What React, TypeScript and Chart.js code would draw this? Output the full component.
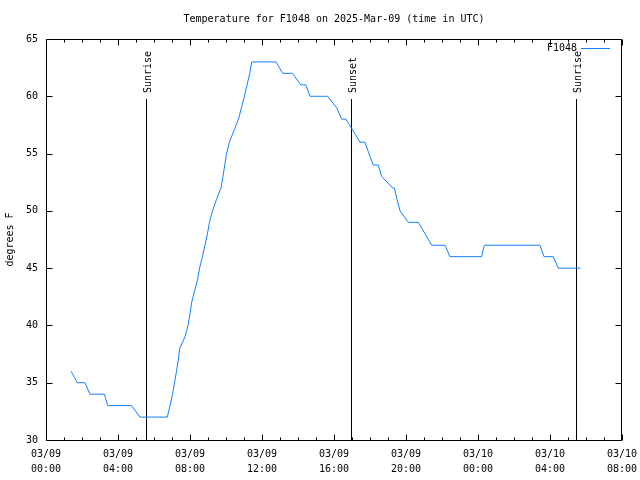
import React, { useEffect, useRef } from 'react';
import { Chart, registerables } from 'chart.js';

Chart.register(...registerables);

// Hours since 03/09 00:00 UTC and temperature readings (°F)
const hours = [
  1.39, 1.74, 2.17, 2.44, 3.24, 3.43, 4.76, 5.22, 6.74,
  6.89, 7.03, 7.14, 7.25, 7.35, 7.43, 7.72, 7.89, 8.0, 8.09, 8.25, 8.42, 8.53, 8.69, 8.83, 8.97,
  9.08, 9.25, 9.47, 9.72, 9.83, 9.93, 10.03, 10.19, 10.44, 10.69, 10.86, 11.02, 11.17, 11.32, 11.43,
  12.78, 13.15, 13.7, 14.15, 14.43, 14.67, 15.65, 16.15, 16.43, 16.67, 17.06, 17.44, 17.72, 17.94,
  18.18, 18.46, 18.65, 19.26, 19.35, 19.5, 19.67, 20.13, 20.68, 21.06, 21.43, 22.17, 22.44, 24.2,
  24.35, 27.44, 27.67, 28.18, 28.46, 29.7,
];
const temps = [
  36, 35, 35, 34, 34, 33, 33, 32, 32,
  33, 34, 35, 36, 37, 38, 39, 40, 41, 42, 43, 44, 45, 46, 47, 48,
  49, 50, 51, 52, 53, 54, 55, 56, 57, 58, 59, 60, 61, 62, 63,
  63, 62, 62, 61, 61, 60, 60, 59, 58, 58, 57, 56, 56, 55,
  54, 54, 53, 52, 52, 51, 50, 49, 49, 48, 47, 47, 46, 46,
  47, 47, 46, 46, 45, 45,
];

const xTickDates = ['03/09', '03/09', '03/09', '03/09', '03/09', '03/09', '03/10', '03/10', '03/10'];
const xTickTimes = ['00:00', '04:00', '08:00', '12:00', '16:00', '20:00', '00:00', '04:00', '08:00'];
const yTicks = [30, 35, 40, 45, 50, 55, 60, 65];

const markerNames = ['Sunrise', 'Sunset', 'Sunrise'];
const markerHours = [5.556, 16.944, 29.444];
const markerTop = 59.8;

const seriesName = 'F1048';
const titleText = 'Temperature for F1048 on 2025-Mar-09 (time in UTC)';
const yTitle = 'degrees F';

const FONT = '"DejaVu Sans Mono", "Liberation Mono", monospace';
const LINE_COLOR = '#1080ff';

const gnuplotLook = {
  id: 'gnuplotLook',
  beforeDraw(chart: any) {
    const { ctx, width, height } = chart;
    ctx.save();
    ctx.fillStyle = '#ffffff';
    ctx.fillRect(0, 0, width, height);
    ctx.restore();
  },
  beforeDatasetsDraw(chart: any) {
    const { ctx, scales } = chart;
    const xs = scales.x;
    const ys = scales.y;
    ctx.save();
    ctx.strokeStyle = '#000000';
    ctx.lineWidth = 1;
    ctx.fillStyle = '#000000';
    ctx.font = `10px ${FONT}`;
    const yb = ys.getPixelForValue(30);
    const yt = ys.getPixelForValue(markerTop);
    markerHours.forEach((h, i) => {
      const x = Math.round(xs.getPixelForValue(h)) + 0.5;
      ctx.beginPath();
      ctx.moveTo(x, Math.round(yt));
      ctx.lineTo(x, Math.round(yb));
      ctx.stroke();
      ctx.save();
      ctx.translate(x + 1.5, Math.round(yt) - 6);
      ctx.rotate(-Math.PI / 2);
      ctx.textAlign = 'left';
      ctx.textBaseline = 'middle';
      ctx.fillText(markerNames[i], 0, 0);
      ctx.restore();
    });
    ctx.restore();
  },
  afterDraw(chart: any) {
    const { ctx, chartArea, scales } = chart;
    const { left, right, top, bottom } = chartArea;
    const xs = scales.x;
    const ys = scales.y;
    ctx.save();
    ctx.strokeStyle = '#000000';
    ctx.lineWidth = 1;
    const L = Math.round(left) + 0.5;
    const R = Math.round(right) - 0.5;
    const T = Math.round(top) + 0.5;
    const B = Math.round(bottom) + 0.5;
    ctx.beginPath();
    ctx.moveTo(L, T);
    ctx.lineTo(R, T);
    ctx.lineTo(R, B);
    ctx.lineTo(L, B);
    ctx.closePath();
    ctx.stroke();

    // x ticks (hourly minor, 4-hour major), inward on bottom and top
    ctx.beginPath();
    for (let h = 0; h <= 32; h++) {
      const x = Math.round(xs.getPixelForValue(h)) + 0.5;
      const len = h % 4 === 0 ? 6 : 3;
      ctx.moveTo(x, B);
      ctx.lineTo(x, B - len);
      ctx.moveTo(x, T);
      ctx.lineTo(x, T + len);
    }
    // y ticks, inward on left and right
    yTicks.forEach((v) => {
      const y = Math.round(ys.getPixelForValue(v)) + 0.5;
      ctx.moveTo(L, y);
      ctx.lineTo(L + 6, y);
      ctx.moveTo(R, y);
      ctx.lineTo(R - 6, y);
    });
    ctx.stroke();

    // legend
    ctx.fillStyle = '#000000';
    ctx.font = `10px ${FONT}`;
    ctx.textAlign = 'right';
    ctx.textBaseline = 'middle';
    ctx.fillText(seriesName, 577, 48);
    ctx.strokeStyle = LINE_COLOR;
    ctx.beginPath();
    ctx.moveTo(581, 48.5);
    ctx.lineTo(610, 48.5);
    ctx.stroke();

    // title
    ctx.textAlign = 'center';
    ctx.fillText(titleText, (left + right) / 2, 19.5);
    ctx.restore();
  },
};

export default function App() {
  const canvasRef = useRef<HTMLCanvasElement | null>(null);

  useEffect(() => {
    const canvas = canvasRef.current;
    if (!canvas) return;
    const points = hours.map((h, i) => ({ x: h, y: temps[i] }));
    const chart = new Chart(canvas, {
      type: 'line',
      data: {
        datasets: [
          {
            label: seriesName,
            data: points,
            borderColor: LINE_COLOR,
            borderWidth: 1,
            pointRadius: 0,
            fill: false,
            tension: 0,
          },
        ],
      },
      options: {
        responsive: false,
        animation: false,
        events: [],
        layout: { padding: { top: 39, right: 18, left: 0, bottom: 0 } },
        plugins: {
          legend: { display: false },
          title: { display: false },
          tooltip: { enabled: false },
        },
        scales: {
          x: {
            type: 'linear',
            min: 0,
            max: 32,
            afterFit: (s: any) => {
              s.height = 40;
              s.paddingLeft = 0;
              s.paddingRight = 0;
            },
            afterBuildTicks: (s: any) => {
              s.ticks = xTickTimes.map((_, i) => ({ value: i * 4 }));
            },
            grid: { display: false, drawTicks: false },
            border: { display: false },
            ticks: {
              autoSkip: false,
              maxRotation: 0,
              padding: 7,
              color: '#000000',
              font: { family: FONT, size: 10, lineHeight: 1.5 },
              callback: (v: any) => {
                const i = Math.round(Number(v) / 4);
                return [xTickDates[i], xTickTimes[i]];
              },
            },
          },
          y: {
            type: 'linear',
            min: 30,
            max: 65,
            afterFit: (s: any) => {
              s.width = 46;
              s.paddingTop = 0;
              s.paddingBottom = 0;
            },
            afterBuildTicks: (s: any) => {
              s.ticks = yTicks.map((v) => ({ value: v }));
            },
            grid: { display: false, drawTicks: false },
            border: { display: false },
            title: {
              display: true,
              text: yTitle,
              color: '#000000',
              font: { family: FONT, size: 10 },
              padding: { top: 4, bottom: 0 },
            },
            ticks: {
              padding: 8,
              color: '#000000',
              font: { family: FONT, size: 10 },
              callback: (v: any) => String(v),
            },
          },
        },
      },
      plugins: [gnuplotLook],
    });
    return () => chart.destroy();
  }, []);

  return (
    <div style={{ position: 'fixed', left: 0, top: 0, width: 640, height: 480, background: '#fff' }}>
      <canvas ref={canvasRef} width={640} height={480} style={{ display: 'block' }} />
    </div>
  );
}
